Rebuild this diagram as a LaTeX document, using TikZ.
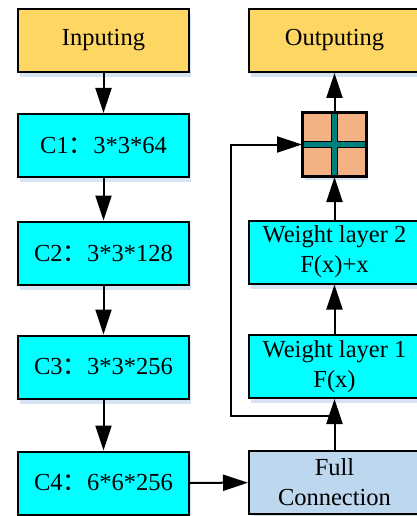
\documentclass[tikz,border=0pt]{standalone}
\usepackage{fontspec}
\setmainfont{Liberation Serif}
\newfontfamily\cjk{Noto Sans CJK SC}
\usetikzlibrary{arrows.meta,shadows}
\definecolor{yel}{HTML}{FDD663}
\definecolor{cyanbox}{HTML}{00FFFF}
\definecolor{fcblue}{HTML}{BDD7EE}
\definecolor{orangebox}{HTML}{F4B183}
\definecolor{tealbar}{HTML}{007F7F}
\definecolor{shadowc}{HTML}{D5E3F3}
\newcommand{\cc}{{\cjk ：}}
\begin{document}
\begin{tikzpicture}[x=1pt,y=-1pt,
  box/.style={draw=black,line width=2pt,minimum width=171pt,minimum height=63pt,inner sep=0pt,align=center,
    font=\fontsize{24.5}{30}\selectfont,
    drop shadow={shadow xshift=2pt,shadow yshift=-5pt,fill=shadowc,opacity=1}},
  ybox/.style={box,fill=yel},
  cbox/.style={box,fill=cyanbox},
  fbox/.style={box,fill=fcblue},
  pbox/.style={draw=black,line width=2pt,minimum width=63pt,minimum height=63pt,inner sep=0pt,fill=orangebox,
    drop shadow={shadow xshift=2pt,shadow yshift=-4pt,fill=shadowc,opacity=1}},
  conn/.style={line width=2pt,line join=miter,-{Triangle[length=25pt,width=16pt]}},
  bar/.style={fill=tealbar,draw=black,line width=1pt}]
\useasboundingbox (0,0) rectangle (416,516);
% left column
\node[ybox] (in) at (103.5,40.5) {Inputing};
\node[cbox] (c1) at (103.5,145.5) {C1\cc3*3*64};
\node[cbox] (c2) at (103.5,253) {C2\cc3*3*128};
\node[cbox] (c3) at (103.5,367) {C3\cc3*3*256};
\node[cbox] (c4) at (103.5,483) {C4\cc6*6*256};
% right column
\node[ybox] (out) at (334.5,40.5) {Outputing};
\node[pbox] (plus) at (334.5,144.5) {};
\node[cbox] (w2) at (334.5,252) {Weight layer 2\\F(x)+x};
\node[cbox] (w1) at (334.5,366.5) {Weight layer 1\\F(x)};
\node[fbox] (fc) at (334.5,482.5) {Full\\Connection};
% cross in plus box
\begin{scope}[shift={(plus.center)}]
\draw[bar] (-3,-31) -- (3,-31) -- (3,-3) -- (31,-3) -- (31,3) -- (3,3) -- (3,31)
  -- (-3,31) -- (-3,3) -- (-31,3) -- (-31,-3) -- (-3,-3) -- cycle;
\end{scope}
\draw[line width=2pt] (plus.north west) rectangle (plus.south east);
% connectors
\draw[conn] (in) -- (c1);
\draw[conn] (c1) -- (c2);
\draw[conn] (c2) -- (c3);
\draw[conn] (c3) -- (c4);
\draw[conn] (c4) -- (fc);
\draw[conn] (fc) -- (w1);
\draw[conn] (w1) -- (w2);
\draw[conn] (w2) -- (plus);
\draw[conn] (plus) -- (out);
\coordinate (split) at (334.5,416);
\coordinate (corner) at (231,144.5);
\draw[conn] (split) -| (corner) -- (plus.west);
\end{tikzpicture}
\end{document}
